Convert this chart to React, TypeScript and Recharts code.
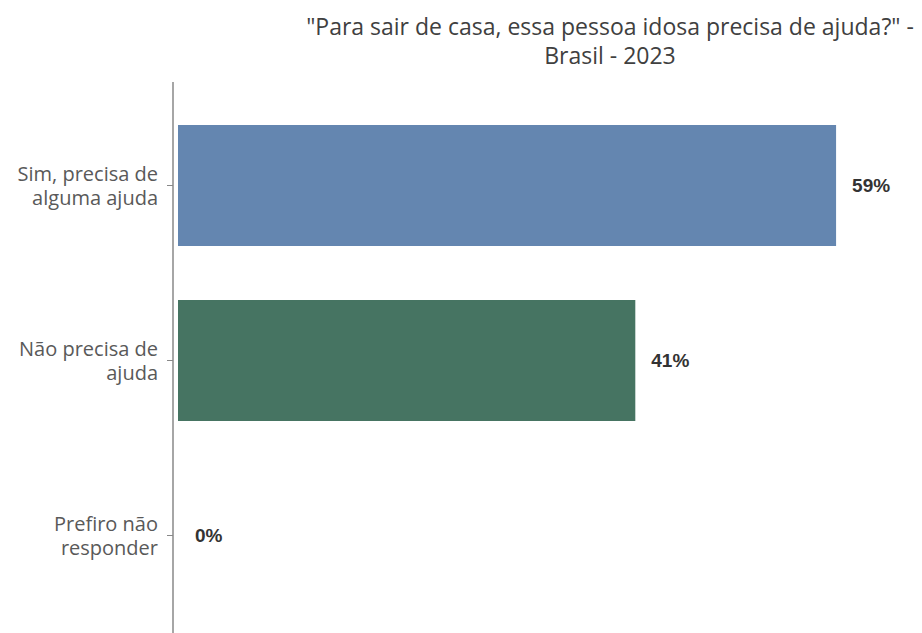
import { Bar, BarChart, Cell, LabelList, XAxis, YAxis } from "recharts";

const CATEGORIES = [
  "Sim, precisa de\nalguma ajuda",
  "Não precisa de\najuda",
  "Prefiro não\nresponder",
];
const VALUES = [59, 41, 0];
const COLORS = ["#6486b0", "#467462", "#6486b0"];

const TITLE_1 = '"Para sair de casa, essa pessoa idosa precisa de ajuda?" -';
const TITLE_2 = "Brasil - 2023";

const data = CATEGORIES.map((name, i) => ({ name, value: VALUES[i] }));

const FONT = "'Open Sans', sans-serif";

function CategoryTick(props: any) {
  const { x, y, payload } = props;
  const lines = String(payload.value).split("\n");
  const lh = 24;
  const y0 = y - ((lines.length - 1) * lh) / 2;
  return (
    <g>
      {lines.map((l, i) => (
        <text
          key={i}
          x={x}
          y={y0 + i * lh + 7}
          textAnchor="end"
          fill="#595959"
          fontSize={20}
          fontFamily={FONT}
        >
          {l}
        </text>
      ))}
    </g>
  );
}

export default function App() {
  return (
    <div
      style={{
        position: "absolute",
        left: 0,
        top: 0,
        width: 922,
        height: 633,
        background: "#fff",
        fontFamily: FONT,
      }}
    >
      <div
        style={{
          position: "absolute",
          left: 280,
          width: 660,
          top: 12,
          textAlign: "center",
          fontSize: 23,
          lineHeight: "29px",
          color: "#404040",
          whiteSpace: "nowrap",
        }}
      >
        <div>{TITLE_1}</div>
        <div>{TITLE_2}</div>
      </div>
      <BarChart
        width={922}
        height={633}
        data={data}
        layout="vertical"
        margin={{ top: 82, right: 19, bottom: 0, left: 0 }}
        style={{ position: "absolute", left: 0, top: 0 }}
      >
        <XAxis
          type="number"
          domain={[0, 65]}
          hide
          padding={{ left: 5, right: 0 }}
        />
        <YAxis
          type="category"
          dataKey="name"
          width={173}
          padding={{ top: 16, bottom: 10 }}
          axisLine={{ stroke: "#888", strokeWidth: 1.5 }}
          tickLine={{ stroke: "#888" }}
          tickSize={6}
          tickMargin={9}
          tick={<CategoryTick />}
          interval={0}
        />
        <Bar
          dataKey="value"
          barSize={121}
          minPointSize={1}
          isAnimationActive={false}
        >
          {data.map((d, i) => (
            <Cell key={d.name} fill={d.value === 0 ? "none" : COLORS[i]} />
          ))}
          <LabelList
            dataKey="value"
            position="right"
            offset={16}
            formatter={(v: any) => `${v}%`}
            fill="#333"
            fontSize={19}
            fontWeight={700}
            fontFamily="'Liberation Sans', Arial, sans-serif"
          />
        </Bar>
      </BarChart>
    </div>
  );
}
